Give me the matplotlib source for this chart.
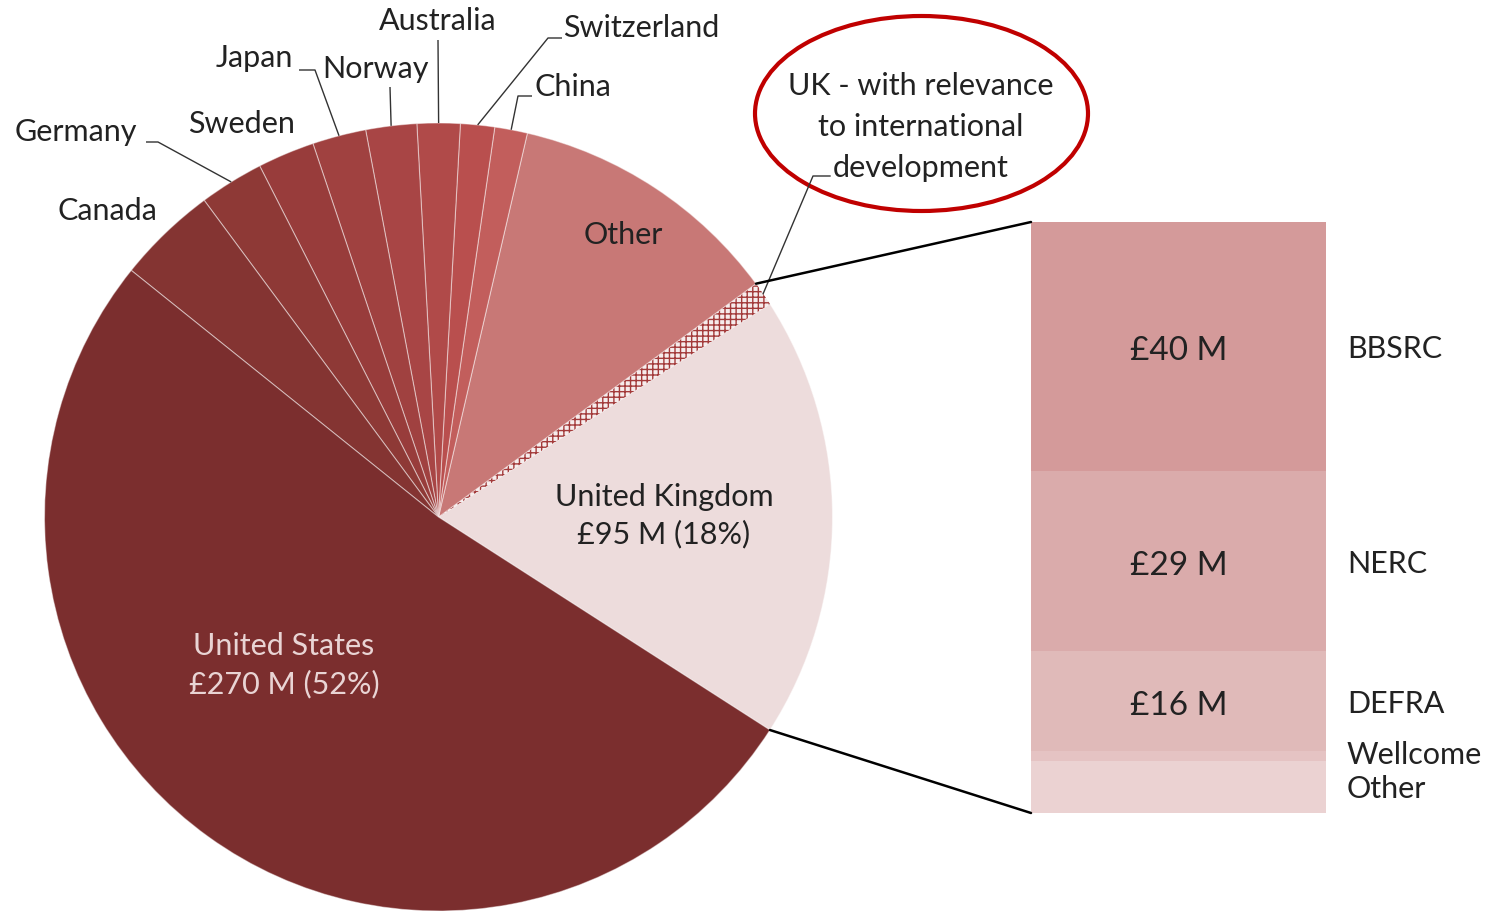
import numpy as np
import matplotlib
matplotlib.use("Agg")
import matplotlib.pyplot as plt
from matplotlib.patches import Ellipse, ConnectionPatch

plt.rcParams['font.family'] = ['Lato', 'DejaVu Sans']
plt.rcParams['hatch.linewidth'] = 1.0

# ---------------- data ----------------
countries = ["United Kingdom",
             "UK - with relevance\nto international\ndevelopment",
             "Other", "China", "Switzerland", "Australia", "Norway",
             "Japan", "Sweden", "Germany", "Canada", "United States"]
funding = [95, 5.2, 59, 7.0, 7.3, 9.2, 10.9, 11.5, 12.2, 13.8, 21.4, 270]  # £M

uk_funders = ["Other", "Wellcome", "DEFRA", "NERC", "BBSRC"]   # bottom -> top
uk_amounts = [8.3, 1.7, 16, 29, 40]                            # £M

# ---------------- layout ----------------
W, H = 1499, 911
fig = plt.figure(figsize=(W / 100, H / 100), dpi=100)
ax = fig.add_axes([0, 0, 1, 1])


def py(y):
    return H - y


FS = 22
TXT = '#222222'
total = sum(funding)
colors = ['#EDDCDC', '#F6ECEC', '#C87876', '#C25E5C', '#B94F4E', '#B04A49',
          '#A84545', '#A04140', '#983C3B', '#8E3936', '#843432', '#7B2E2E']
cx, cy, R = 438.5, py(517), 394
start = -360 * funding[0] / total / 2
wedges, _ = ax.pie(funding, colors=colors, startangle=start, counterclock=True,
                   center=(cx, cy), radius=R,
                   wedgeprops=dict(edgecolor=(1, 1, 1, 0.45), linewidth=0.8))
hw = wedges[1]
hw.set_hatch('+++')
hw.set_edgecolor('#A33A3A')
hw.set_linewidth(0)

ax.set_xlim(0, W)
ax.set_ylim(0, H)
ax.set_aspect('equal')
ax.axis('off')


def edge_pt(i):
    w = wedges[i]
    th = np.deg2rad((w.theta1 + w.theta2) / 2)
    return cx + R * np.cos(th), cy + R * np.sin(th)


def ang_pt(deg):
    th = np.deg2rad(deg)
    return cx + R * np.cos(th), cy + R * np.sin(th)


idx = {c: i for i, c in enumerate(countries)}

# labels inside slices
pct_us = funding[idx["United States"]] / total * 100
pct_uk = funding[idx["United Kingdom"]] / total * 100
ax.text(664, py(516), f"United Kingdom\n£{funding[0]:.0f} M ({pct_uk:.0f}%)",
        ha='center', va='center', fontsize=FS, color=TXT, linespacing=1.36)
ax.text(284, py(665), f"United States\n£{funding[-1]:.0f} M ({pct_us:.0f}%)",
        ha='center', va='center', fontsize=FS, color='#E9D4D4', linespacing=1.4)
ax.text(623, py(235), "Other", ha='center', va='center', fontsize=FS, color=TXT)

# outside labels without leaders
ax.text(242, py(124), "Sweden", ha='center', va='center', fontsize=FS, color=TXT)
ax.text(107, py(211), "Canada", ha='center', va='center', fontsize=FS, color=TXT)

# outside labels with leader lines: (text x, text y, ha, leader path points after edge)
leaders = {
    "Germany": ((137, 132, 'right'), [(158, 142), (146, 142)]),
    "Japan": ((293, 58, 'right'), [(315, 70), (299, 70)]),
    "Norway": ((376, 69, 'center'), [(390, 87)]),
    "Australia": ((438, 21, 'center'), [(438, 40)]),
    "Switzerland": ((563, 28, 'left'), [(548, 38), (562, 38)]),
    "China": ((535, 87, 'left'), [(518, 96), (532, 96)]),
}
for name, ((tx, ty, ha), pts) in leaders.items():
    ex, ey = edge_pt(idx[name])
    xs = [ex] + [p[0] for p in pts]
    ys = [ey] + [py(p[1]) for p in pts]
    ax.plot(xs, ys, color='#333333', lw=1.0, solid_capstyle='butt')
    ax.text(tx, py(ty), name, ha=ha, va='center', fontsize=FS, color=TXT)

# UK intl label + leader + ellipse
ex, ey = edge_pt(1)
ax.plot([ex, 813, 830], [ey, py(176), py(176)], color='#333333', lw=1.0)
ax.text(921, py(127), countries[1], ha='center', va='center', fontsize=FS,
        color=TXT, linespacing=1.55)
ax.add_patch(Ellipse((921.5, py(113.5)), 333, 195, fill=False,
                     edgecolor='#C00000', lw=3))

# ---------------- bar of UK breakdown ----------------
bax = fig.add_axes([1031 / W, (H - 813) / H, 295 / W, 591 / H])
bottoms = np.concatenate([[0], np.cumsum(uk_amounts)[:-1]])
bar_colors = ['#EBD2D2', '#E5C3C3', '#E0BAB9', '#DAABAB', '#D49A9A']
bax.bar(0, uk_amounts, bottom=bottoms, width=1, color=bar_colors, linewidth=0)
bax.set_xlim(-0.5, 0.5)
bax.set_ylim(0, sum(uk_amounts))
bax.axis('off')
for name, amt, b in zip(uk_funders, uk_amounts, bottoms):
    yc = b + amt / 2
    off = -2
    if name == "Wellcome":
        off = 1
    if name == "Other":
        off = -1
    bax.annotate(name, xy=(0.5, yc), xytext=(15, off), textcoords='offset points',
                 ha='left', va='center', fontsize=FS, color=TXT,
                 annotation_clip=False)
    if amt >= 10:
        bax.annotate(f"£{amt:.0f} M", xy=(0, yc), xytext=(0, -3.5),
                     textcoords='offset points', ha='center', va='center',
                     fontsize=FS + 2, color=TXT)

# connector lines
top_pt = ang_pt(wedges[1].theta2)
bot_pt = ang_pt(wedges[0].theta1)
for pA, pB in [(top_pt, (-0.5, sum(uk_amounts))), (bot_pt, (-0.5, 0))]:
    con = ConnectionPatch(xyA=pA, coordsA=ax.transData, xyB=pB, coordsB=bax.transData,
                          color='black', lw=1.8)
    fig.add_artist(con)

fig.savefig("out.png", dpi=100, facecolor='white')
